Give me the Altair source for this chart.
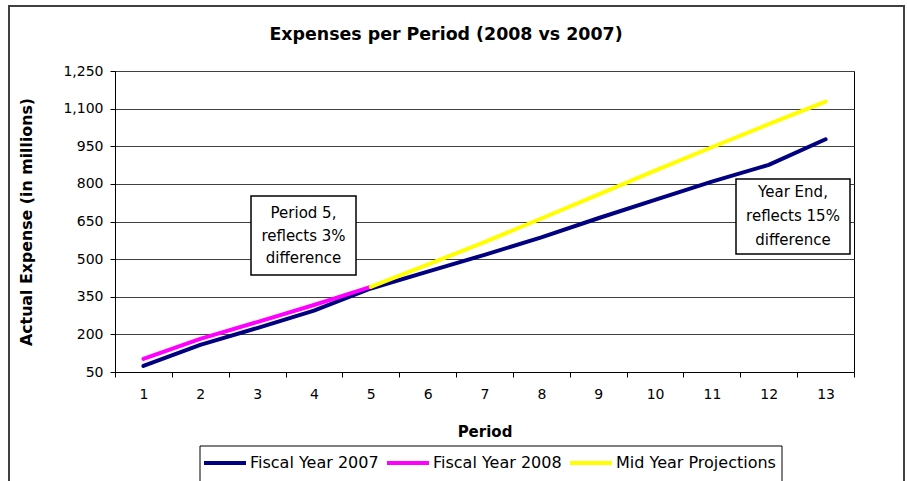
import altair as alt
import pandas as pd

# ---- data ----
periods = [str(p) for p in range(1, 14)]
fy2007 = [74, 158, 225, 295, 383, 450, 517, 587, 663, 736, 809, 876, 978]
fy2008_periods = ["1", "2", "3", "4", "5"]
fy2008 = [102, 182, 249, 317, 389]
mid_periods = ["5", "6", "7", "8", "9", "10", "11", "12", "13"]
mid_proj = [389, 478, 568, 662, 757, 853, 946, 1038, 1128]

series_names = ["Fiscal Year 2007", "Fiscal Year 2008", "Mid Year Projections"]
series_colors = ["#000080", "#FF00FF", "#FFFF00"]
y_ticks = [50, 200, 350, 500, 650, 800, 950, 1100, 1250]

chart_title = "Expenses per Period (2008 vs 2007)"
note_1 = "Period 5,\nreflects 3%\ndifference"
note_2 = "Year End,\nreflects 15%\ndifference"

rows = []
for p, v in zip(periods, fy2007):
    rows.append({"Period": p, "Expense": v, "Series": series_names[0]})
for p, v in zip(fy2008_periods, fy2008):
    rows.append({"Period": p, "Expense": v, "Series": series_names[1]})
for p, v in zip(mid_periods, mid_proj):
    rows.append({"Period": p, "Expense": v, "Series": series_names[2]})
df = pd.DataFrame(rows)

FONT = "DejaVu Sans"

x_enc = alt.X(
    "Period:O",
    sort=periods,
    scale=alt.Scale(type="band", domain=periods, paddingInner=0, paddingOuter=0),
    axis=alt.Axis(
        title="Period",
        titleFont=FONT, titleFontSize=15, titleFontWeight="bold", titleColor="black",
        titleX=369.5, titleY=59, titleBaseline="middle", titleAlign="center",
        labelFont=FONT, labelFontSize=14, labelColor="black", labelAngle=0,
        labelPadding=10, tickBand="extent", tickSize=5, tickColor="black",
        domainColor="black", grid=False,
    ),
)
y_enc = alt.Y(
    "Expense:Q",
    scale=alt.Scale(domain=[50, 1250], nice=False, zero=False),
    axis=alt.Axis(
        title="Actual Expense (in millions)",
        titleFont=FONT, titleFontSize=15.8, titleFontWeight="bold", titleColor="black",
        titleAngle=270, titleX=-88.5, titleY=150.5, titleBaseline="middle", titleAlign="center",
        values=y_ticks, format=",d",
        labelFont=FONT, labelFontSize=14, labelColor="black", labelPadding=7,
        tickSize=5, tickColor="black", domainColor="black",
        grid=True, gridColor="#404040", gridWidth=1,
    ),
)
color_enc = alt.Color(
    "Series:N",
    scale=alt.Scale(domain=series_names, range=series_colors),
    legend=alt.Legend(
        title=None, orient="none", direction="horizontal", columns=3,
        legendX=87, legendY=369,
        symbolType="stroke", symbolSize=1764, symbolStrokeWidth=4,
        labelFont=FONT, labelFontSize=16, labelColor="black", labelOffset=2,
        columnPadding=0, padding=0,
    ),
)

base = alt.Chart(df)
lines = [
    base.transform_filter(alt.datum.Series == s)
    .mark_line(strokeWidth=4, strokeCap="round", strokeJoin="round")
    .encode(x=x_enc, y=y_enc, color=color_enc)
    for s in series_names
]

deco = alt.Chart(pd.DataFrame({"k": [0]}))
frame = deco.mark_rect(fill=None, stroke="#404040", strokeWidth=2).encode(
    x=alt.value(-106), x2=alt.value(789), y=alt.value(-65), y2=alt.value(430)
)
title_text = deco.mark_text(font=FONT, fontSize=17.4, fontWeight="bold", color="black",
                            align="center", baseline="middle").encode(
    x=alt.value(331), y=alt.value(-36), text=alt.value(chart_title)
)
legend_box = deco.mark_rect(fill="white", stroke="black", strokeWidth=1).encode(
    x=alt.value(85), x2=alt.value(667), y=alt.value(375), y2=alt.value(430)
)
box1 = deco.mark_rect(fill="white", stroke="black", strokeWidth=1.5).encode(
    x=alt.value(136), x2=alt.value(241), y=alt.value(125), y2=alt.value(204)
)
text1 = deco.mark_text(font=FONT, fontSize=15, color="black", lineBreak="\n",
                       lineHeight=22.5, align="center", baseline="middle").encode(
    x=alt.value(188.5), y=alt.value(142), text=alt.value(note_1)
)
box2 = deco.mark_rect(fill="white", stroke="black", strokeWidth=1.5).encode(
    x=alt.value(621), x2=alt.value(735), y=alt.value(108), y2=alt.value(183)
)
text2 = deco.mark_text(font=FONT, fontSize=15, color="black", lineBreak="\n",
                       lineHeight=23.8, align="center", baseline="middle").encode(
    x=alt.value(678), y=alt.value(121), text=alt.value(note_2)
)

chart = alt.layer(
    frame, title_text, legend_box, *lines, box1, text1, box2, text2
).properties(
    width=739,
    height=301,
    autosize=alt.AutoSizeParams(type="none"),
    padding={"left": 115, "top": 71, "right": 53, "bottom": 109},
    background="white",
).configure_view(stroke="black", strokeWidth=1)

chart.save("out.html", embed_options={"renderer": "svg", "actions": False})
